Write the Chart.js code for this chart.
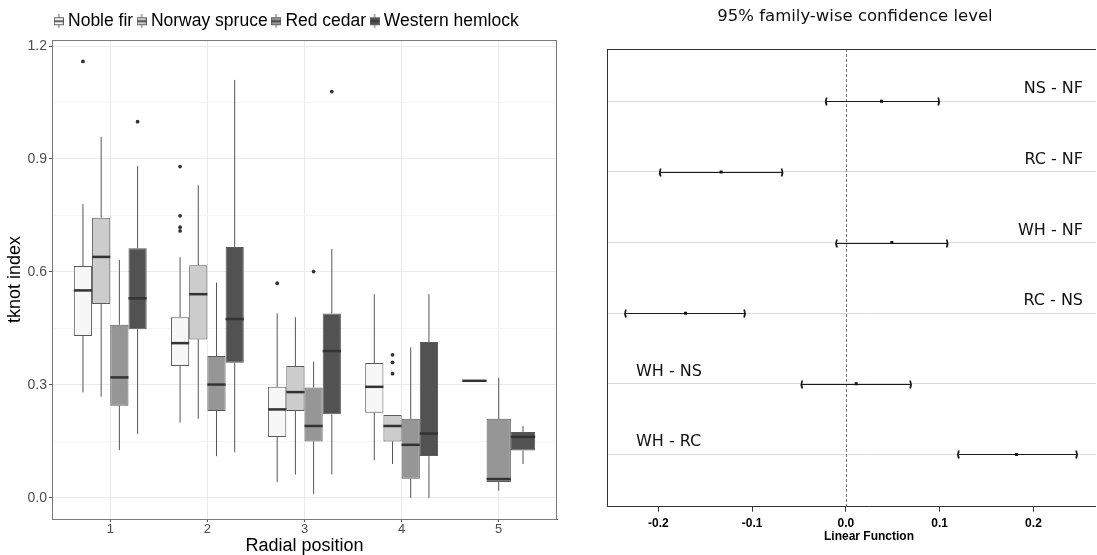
<!DOCTYPE html>
<html>
<head>
<meta charset="utf-8">
<title>tknot index by radial position</title>
<script src="https://cdn.jsdelivr.net/npm/chart.js@4.4.1/dist/chart.umd.min.js"></script>
<style>
  html, body { margin: 0; padding: 0; background: #fff; overflow: hidden; }
  #boxes { position: absolute; left: 0; top: 0; }
  #tukeyWrap { position: absolute; left: 575px; top: 0; width: 521px; height: 555px; overflow: hidden; }
</style>
</head>
<body>
<canvas id="boxes" width="575" height="555"></canvas>
<div id="tukeyWrap"><canvas id="tukey" width="560" height="555"></canvas></div>
<script>
// ---- tknot index by species and radial position ----
const positions = [1, 2, 3, 4, 5];
const species = ['Noble fir', 'Norway spruce', 'Red cedar', 'Western hemlock'];

// [lower whisker, Q1, median, Q3, upper whisker] for each radial position
const nobleFir = [
  [0.280, 0.430, 0.551, 0.616, 0.780],
  [0.200, 0.350, 0.411, 0.480, 0.639],
  [0.042, 0.162, 0.235, 0.295, 0.490],
  [0.100, 0.226, 0.295, 0.358, 0.541],
  [0.311, 0.311, 0.311, 0.311, 0.311]
];
const norwaySpruce = [
  [0.269, 0.515, 0.640, 0.744, 0.959],
  [0.210, 0.421, 0.541, 0.618, 0.830],
  [0.062, 0.231, 0.281, 0.350, 0.480],
  [0.090, 0.150, 0.191, 0.220, 0.220],
  null
];
const redCedar = [
  [0.127, 0.245, 0.320, 0.460, 0.632],
  [0.111, 0.231, 0.301, 0.377, 0.572],
  [0.011, 0.150, 0.191, 0.293, 0.362],
  [0.000, 0.051, 0.141, 0.210, 0.400],
  [0.019, 0.042, 0.050, 0.210, 0.319]
];
const westernHemlock = [
  [0.170, 0.448, 0.530, 0.663, 0.881],
  [0.121, 0.359, 0.475, 0.666, 1.110],
  [0.062, 0.222, 0.390, 0.490, 0.661],
  [0.000, 0.111, 0.171, 0.414, 0.541],
  [0.090, 0.126, 0.162, 0.175, 0.191]
];

// points outside the whiskers
const nobleFirOut = [[1.159], [0.880, 0.749, 0.719, 0.709], [0.570], [], []];
const norwaySpruceOut = [[], [], [], [0.380, 0.360, 0.330], []];
const redCedarOut = [[], [], [0.601], [], []];
const westernHemlockOut = [[0.999], [], [1.079], [], []];

const yTicks = [0, 0.15, 0.3, 0.45, 0.6, 0.75, 0.9, 1.05, 1.2];

// ---- Tukey contrasts, 95% family-wise ----
const comparisons = ['NS - NF', 'RC - NF', 'WH - NF', 'RC - NS', 'WH - NS', 'WH - RC'];
const estimate = [0.038, -0.133, 0.049, -0.171, 0.011, 0.182];
const lower = [-0.022, -0.199, -0.011, -0.236, -0.048, 0.119];
const upper = [0.100, -0.067, 0.109, -0.107, 0.070, 0.247];
const effectTicks = [-0.2, -0.1, 0, 0.1, 0.2];


const summaries = [nobleFir, norwaySpruce, redCedar, westernHemlock];
const outliers = [nobleFirOut, norwaySpruceOut, redCedarOut, westernHemlockOut];
const fills = ['#f7f7f7', '#cccccc', '#969696', '#525252'];
const sans = "'Liberation Sans', Arial, sans-serif";
const dejavu = "'DejaVu Sans', sans-serif";

// small boxplot glyph used as legend key
function keyGlyph(fill) {
    const c = document.createElement('canvas');
    c.width = 10;
    c.height = 14;
    const g = c.getContext('2d');
    g.strokeStyle = '#666';
    g.lineWidth = 1;
    g.beginPath();
    g.moveTo(5, 0);
    g.lineTo(5, 14);
    g.stroke();
    g.fillStyle = fill;
    g.fillRect(0.5, 3.5, 9, 7);
    g.strokeRect(0.5, 3.5, 9, 7);
    g.strokeStyle = '#333';
    g.lineWidth = 1.5;
    g.beginPath();
    g.moveTo(0.5, 7);
    g.lineTo(9.5, 7);
    g.stroke();
    return c;
}

const isMajor = v => Math.round(v / 0.15) % 2 === 0;

// whiskers under the boxes, medians and outliers on top
const boxParts = {
    id: 'boxParts',
    afterLayout(chart) {
        // legend row sits a little right of the panel centre
        chart.legend.left += 10;
        chart.legend.right += 10;
    },
    beforeDatasetsDraw(chart) {
        const {ctx} = chart;
        const y = chart.scales.y;
        ctx.save();
        ctx.strokeStyle = '#555';
        ctx.lineWidth = 1;
        summaries.forEach((rows, s) => {
            chart.getDatasetMeta(s).data.forEach((bar, i) => {
                const q = rows[i];
                if (!q) return;
                ctx.beginPath();
                ctx.moveTo(bar.x, y.getPixelForValue(q[4]));
                ctx.lineTo(bar.x, y.getPixelForValue(q[3]));
                ctx.moveTo(bar.x, y.getPixelForValue(q[1]));
                ctx.lineTo(bar.x, y.getPixelForValue(q[0]));
                ctx.stroke();
            });
        });
        ctx.restore();
    },
    afterDatasetsDraw(chart) {
        const {ctx} = chart;
        const y = chart.scales.y;
        ctx.save();
        summaries.forEach((rows, s) => {
            chart.getDatasetMeta(s).data.forEach((bar, i) => {
                const q = rows[i];
                if (!q) return;
                const half = bar.width / 2;
                const my = y.getPixelForValue(q[2]);
                ctx.strokeStyle = '#333';
                ctx.lineWidth = 2.5;
                ctx.beginPath();
                ctx.moveTo(bar.x - half, my);
                ctx.lineTo(bar.x + half, my);
                ctx.stroke();
                ctx.fillStyle = '#333';
                outliers[s][i].forEach(v => {
                    ctx.beginPath();
                    ctx.arc(bar.x, y.getPixelForValue(v), 1.9, 0, Math.PI * 2);
                    ctx.fill();
                });
            });
        });
        // panel border
        const a = chart.chartArea;
        ctx.strokeStyle = '#7a7a7a';
        ctx.lineWidth = 1;
        ctx.strokeRect(a.left + 0.5, a.top + 0.5, a.right - a.left - 1, a.bottom - a.top);
        ctx.restore();
    }
};

new Chart(document.getElementById('boxes'), {
    type: 'bar',
    data: {
        datasets: species.map((name, s) => ({
            label: name,
            data: positions.map((p, i) => ({
                x: p,
                y: summaries[s][i] ? [summaries[s][i][1], summaries[s][i][3]] : null
            })),
            backgroundColor: fills[s],
            borderColor: '#5a5a5a',
            borderWidth: 1,
            borderSkipped: false,
            categoryPercentage: 0.75,
            barPercentage: 1,
            skipNull: true
        }))
    },
    options: {
        responsive: false,
        animation: false,
        devicePixelRatio: 1,
        layout: {padding: {left: 0, right: 18, top: 4.5, bottom: 0}},
        plugins: {
            tooltip: {enabled: false},
            legend: {
                position: 'top',
                align: 'center',
                labels: {
                    usePointStyle: true,
                    pointStyleWidth: 1,
                    padding: 8,
                    color: '#1a1a1a',
                    font: {family: sans, size: 17.5},
                    generateLabels: () => species.map((name, s) => ({
                        text: name,
                        pointStyle: keyGlyph(fills[s]),
                        datasetIndex: s,
                        lineWidth: 0,
                        hidden: false
                    }))
                }
            }
        },
        scales: {
            x: {
                type: 'linear',
                min: 0.4,
                max: 5.6,
                offset: false,
                afterBuildTicks: sc => { sc.ticks = positions.map(v => ({value: v})); },
                afterFit: sc => { sc.height = 36; },
                grid: {offset: false, color: '#ebebeb', tickColor: '#555', tickLength: 3},
                border: {color: '#555'},
                ticks: {
                    color: '#4d4d4d',
                    padding: 0,
                    font: {family: sans, size: 13},
                    callback: v => String(v)
                },
                title: {
                    display: true,
                    text: 'Radial position',
                    color: '#000',
                    font: {family: sans, size: 18, lineHeight: 1},
                    padding: {top: 0, bottom: 0}
                }
            },
            y: {
                min: -0.056,
                max: 1.216,
                afterBuildTicks: sc => { sc.ticks = yTicks.map(v => ({value: v})); },
                afterFit: sc => { sc.width = 52; },
                grid: {
                    color: c => isMajor(c.tick.value) ? '#ebebeb' : '#f5f5f5',
                    tickColor: c => isMajor(c.tick.value) ? '#555' : 'rgba(0,0,0,0)',
                    tickLength: 3
                },
                border: {color: '#555'},
                ticks: {
                    color: '#4d4d4d',
                    padding: 2,
                    font: {family: sans, size: 14},
                    callback: v => isMajor(v) ? (Math.round(v / 0.15) * 0.15).toFixed(1) : ''
                },
                title: {
                    display: true,
                    text: 'tknot index',
                    color: '#000',
                    font: {family: sans, size: 18, lineHeight: 1},
                    padding: {top: 6, bottom: 0}
                }
            }
        }
    },
    plugins: [boxParts]
});

// interval lines with bracket ends, zero reference, frame and contrast names
const intervals = {
    id: 'intervals',
    beforeDatasetsDraw(chart) {
        const {ctx, chartArea: a} = chart;
        const x = chart.scales.x;
        const y = chart.scales.y;
        ctx.save();
        // zero line
        const zx = Math.round(x.getPixelForValue(0)) + 0.5;
        ctx.strokeStyle = '#777';
        ctx.lineWidth = 1;
        ctx.setLineDash([3, 2]);
        ctx.beginPath();
        ctx.moveTo(zx, a.top);
        ctx.lineTo(zx, a.bottom);
        ctx.stroke();
        ctx.setLineDash([]);

        ctx.strokeStyle = '#1a1a1a';
        comparisons.forEach((name, i) => {
            const py = Math.round(y.getPixelForValue(i + 1)) + 0.5;
            const lx = x.getPixelForValue(lower[i]);
            const ux = x.getPixelForValue(upper[i]);
            ctx.lineWidth = 1.2;
            ctx.beginPath();
            ctx.moveTo(lx, py);
            ctx.lineTo(ux, py);
            ctx.stroke();
            ctx.lineWidth = 1.6;
            ctx.beginPath();
            ctx.moveTo(lx + 1.5, py - 4);
            ctx.quadraticCurveTo(lx - 0.5, py, lx + 1.5, py + 4);
            ctx.moveTo(ux - 1.5, py - 4);
            ctx.quadraticCurveTo(ux + 0.5, py, ux - 1.5, py + 4);
            ctx.stroke();
        });
        ctx.restore();
    },
    afterDraw(chart) {
        const {ctx, chartArea: a} = chart;
        const y = chart.scales.y;
        ctx.save();
        ctx.strokeStyle = '#333';
        ctx.lineWidth = 1;
        ctx.beginPath();
        ctx.moveTo(a.left, a.top + 0.5);
        ctx.lineTo(a.right, a.top + 0.5);
        ctx.stroke();

        ctx.fillStyle = '#111';
        ctx.font = '16px ' + dejavu;
        ctx.textBaseline = 'alphabetic';
        comparisons.forEach((name, i) => {
            const py = y.getPixelForValue(i + 1) - 8;
            if (i < 4) {
                ctx.textAlign = 'right';
                ctx.fillText(name, a.left + 476, py);
            } else {
                ctx.textAlign = 'left';
                ctx.fillText(name, a.left + 29, py);
            }
        });
        ctx.restore();
    }
};

new Chart(document.getElementById('tukey'), {
    type: 'scatter',
    data: {
        datasets: [{
            label: 'estimate',
            data: comparisons.map((name, i) => ({x: estimate[i], y: i + 1})),
            pointStyle: 'rect',
            pointRadius: 2.1,
            backgroundColor: '#111',
            borderColor: '#111',
            borderWidth: 0
        }]
    },
    options: {
        responsive: false,
        animation: false,
        devicePixelRatio: 1,
        layout: {padding: 0},
        plugins: {
            tooltip: {enabled: false},
            legend: {display: false},
            title: {
                display: true,
                text: '95% family-wise confidence level',
                color: '#111',
                font: {family: dejavu, size: 16.5, weight: 'normal'},
                padding: {top: 7, bottom: 22.2}
            }
        },
        scales: {
            x: {
                type: 'linear',
                min: -0.2547,
                max: 0.3040,
                afterBuildTicks: sc => { sc.ticks = effectTicks.map(v => ({value: v})); },
                afterFit: sc => { sc.height = 48.3; },
                grid: {drawOnChartArea: false, tickColor: '#333', tickLength: 5},
                border: {color: '#333'},
                ticks: {
                    color: '#000',
                    padding: 5,
                    font: {family: sans, size: 12, weight: 'bold'},
                    callback: v => v.toFixed(1)
                },
                title: {
                    display: true,
                    text: 'Linear Function',
                    color: '#000',
                    font: {family: sans, size: 12, weight: 'bold'},
                    padding: {top: 0, bottom: 11}
                }
            },
            y: {
                type: 'linear',
                reverse: true,
                min: 0.26,
                max: 6.74,
                afterBuildTicks: sc => { sc.ticks = comparisons.map((n, i) => ({value: i + 1})); },
                afterFit: sc => { sc.width = 32; },
                grid: {color: '#d9d9d9', drawTicks: false},
                border: {color: '#333'},
                ticks: {display: false}
            }
        }
    },
    plugins: [intervals]
});
</script>
</body>
</html>
